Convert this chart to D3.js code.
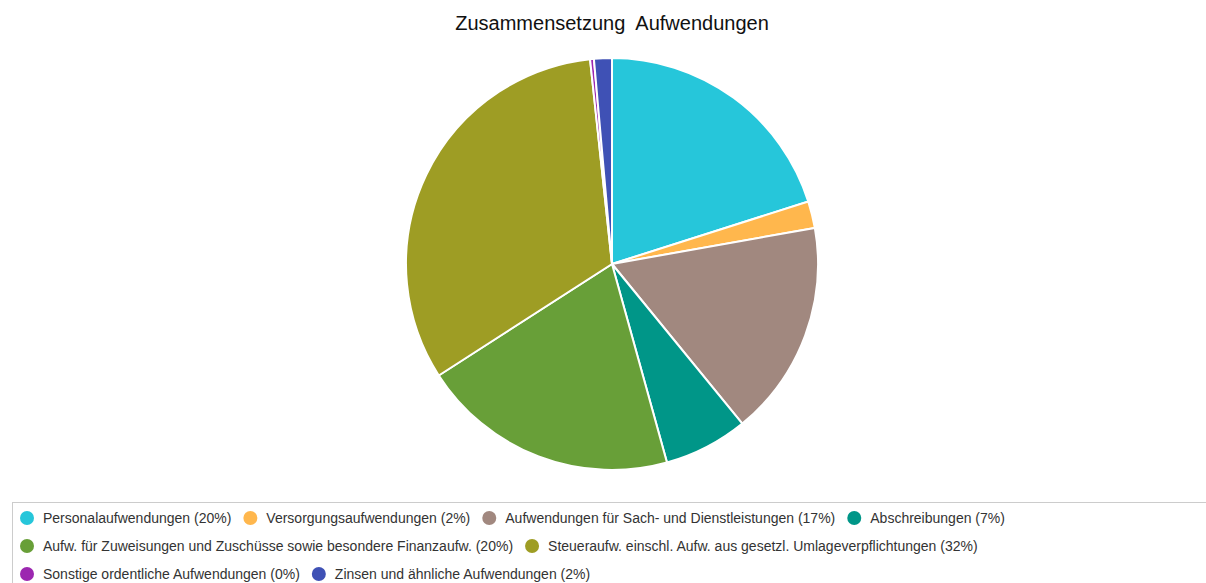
<!DOCTYPE html>
<html>
<head>
<meta charset="utf-8">
<script src="https://cdn.jsdelivr.net/npm/d3@7"></script>
<style>
  body { margin: 0; background: #fff; }
  svg { display: block; font-family: "Liberation Sans", Arial, sans-serif; }
</style>
</head>
<body>
<div id="chart-area"></div>
<script>
const categories = [
	"Personalaufwendungen",
	"Versorgungsaufwendungen",
	"Aufwendungen für Sach- und Dienstleistungen",
	"Abschreibungen",
	"Aufw. für Zuweisungen und Zuschüsse sowie besondere Finanzaufw.",
	"Steueraufw. einschl. Aufw. aus gesetzl. Umlageverpflichtungen",
	"Sonstige ordentliche Aufwendungen",
	"Zinsen und ähnliche Aufwendungen"
];
const values = [20.1, 2.1, 16.9, 6.6, 20.2, 32.4, 0.3, 1.4];
const labels = ["20%", "2%", "17%", "7%", "20%", "32%", "0%", "2%"];
const colors = ["#26c6da", "#ffb74d", "#a1887f", "#009688", "#689f38", "#9e9d24", "#9c27b0", "#3f51b5"];

const width = 1206, height = 583;
const cx = 612, cy = 264, radius = 206;

const svg = d3.select("#chart-area").append("svg")
	.attr("width", width)
	.attr("height", height);

svg.append("text")
	.attr("x", cx)
	.attr("y", 30)
	.attr("text-anchor", "middle")
	.attr("font-size", 20)
	.attr("fill", "#111")
	.style("white-space", "pre")
	.text("Zusammensetzung  Aufwendungen");

const data = categories.map((c, i) => ({ name: c, value: values[i], label: labels[i] }));

const color = d3.scaleOrdinal()
	.domain(categories)
	.range(colors);

const pie = d3.pie()
	.value(d => d.value)
	.sort(null);

const arc = d3.arc()
	.innerRadius(0)
	.outerRadius(radius);

svg.append("g")
	.attr("transform", `translate(${cx},${cy})`)
	.selectAll("path")
	.data(pie(data))
	.enter()
	.append("path")
	.attr("d", arc)
	.attr("fill", d => color(d.data.name))
	.attr("stroke", "#fff")
	.attr("stroke-width", 2);

// legend box
svg.append("rect")
	.attr("x", 12.5)
	.attr("y", 502.5)
	.attr("width", 1210)
	.attr("height", 120)
	.attr("fill", "none")
	.attr("stroke", "#ccc");

// legend items, flowing left to right with wrapping
const legend = svg.append("g");
const rowY = [518, 546, 574];
const maxX = 1190;
let lx = 20, row = 0;

data.forEach(d => {
	const item = legend.append("g");
	const t = item.append("text")
		.attr("x", 23)
		.attr("y", 5)
		.attr("font-size", 14)
		.attr("fill", "#333")
		.text(`${d.name} (${d.label})`);
	const w = 23 + t.node().getComputedTextLength();
	if (lx + w > maxX) { row++; lx = 20; }
	item.attr("transform", `translate(${lx},${rowY[row]})`);
	item.insert("circle", "text")
		.attr("cx", 7)
		.attr("cy", 0)
		.attr("r", 7)
		.attr("fill", color(d.name));
	lx += w + 12;
});
</script>
</body>
</html>
